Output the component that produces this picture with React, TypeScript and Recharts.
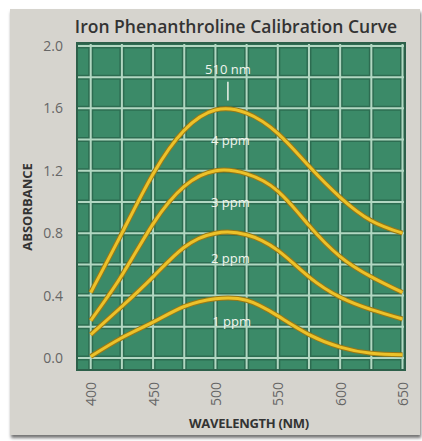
import { LineChart, Line, XAxis, YAxis, CartesianGrid, ReferenceLine, ReferenceDot, ReferenceArea } from "recharts";

const wavelengths = [400, 425, 450, 475, 500, 525, 550, 575, 600, 625, 650];
const ppm4 = [0.42, 0.8, 1.18, 1.46, 1.59, 1.57, 1.44, 1.23, 1.03, 0.88, 0.8];
const ppm3 = [0.24, 0.53, 0.86, 1.1, 1.2, 1.18, 1.07, 0.85, 0.65, 0.52, 0.42];
const ppm2 = [0.15, 0.33, 0.52, 0.71, 0.8, 0.79, 0.69, 0.52, 0.39, 0.31, 0.25];
const ppm1 = [0.01, 0.13, 0.23, 0.33, 0.38, 0.37, 0.27, 0.15, 0.07, 0.03, 0.02];

const xTicks = [400, 450, 500, 550, 600, 650];
const yTicks = [0, 0.4, 0.8, 1.2, 1.6, 2.0];
const gridX = [400, 425, 450, 475, 500, 525, 550, 575, 600, 625, 650];
const gridY = [0, 0.2, 0.4, 0.6, 0.8, 1.0, 1.2, 1.4, 1.6, 1.8, 2.0];

const curveLabels = [
    { x: 512, y: 1.4, text: "4 ppm" },
    { x: 512, y: 1.0, text: "3 ppm" },
    { x: 512, y: 0.64, text: "2 ppm" },
    { x: 513, y: 0.24, text: "1 ppm" },
];
const peak = { x: 510, from: 1.65, to: 1.77, labelY: 1.85, text: "510 nm" };

const data = wavelengths.map((w, i) => ({ w, p4: ppm4[i], p3: ppm3[i], p2: ppm2[i], p1: ppm1[i] }));
const series = ["p4", "p3", "p2", "p1"];

const font = "'Open Sans', 'DejaVu Sans', sans-serif";

const XTick = (props: any) => {
    const { x, y, payload } = props;
    return (
        <text x={x} y={y} transform={`rotate(-90, ${x}, ${y})`} textAnchor="end" dominantBaseline="central" fill="#666" fontSize={14} fontFamily={font}>
            {payload.value}
        </text>
    );
};

const PlainLabel = (text: string) => (props: any) => {
    const { viewBox } = props;
    return (
        <text x={viewBox.x} y={viewBox.y} textAnchor="middle" dominantBaseline="central" fill="#f2f5ee" fontSize={13} fontFamily={font}>
            {text}
        </text>
    );
};

export default function App() {
    return (
        <div style={{ position: "absolute", left: 0, top: 0, width: 422, height: 441, background: "#fff", fontFamily: font }}>
            {/* panel */}
            <div style={{ position: "absolute", left: 10, top: 9, width: 410, height: 426, background: "#d6d4ce", boxShadow: "1px 3px 3px rgba(0,0,0,0.55)" }} />

            {/* titles */}
            <div style={{ position: "absolute", left: 56, width: 360, top: 14, textAlign: "center", fontSize: 17.5, fontWeight: 600, color: "#333", whiteSpace: "nowrap" }}>
                Iron Phenanthroline Calibration Curve
            </div>
            <div style={{ position: "absolute", left: 27, top: 207, transform: "translate(-50%, -50%) rotate(-90deg)", fontSize: 13, fontWeight: 700, color: "#333", whiteSpace: "nowrap" }}>
                ABSORBANCE
            </div>
            <div style={{ position: "absolute", left: 249, top: 423, transform: "translate(-50%, -50%)", fontSize: 13, fontWeight: 700, color: "#333", whiteSpace: "nowrap", letterSpacing: -0.3 }}>
                WAVELENGTH (NM)
            </div>

            <div style={{ position: "absolute", left: 0, top: 0 }}>
                <LineChart width={422} height={441} data={data} margin={{ top: 43, right: 17, bottom: 0, left: 27 }}>
                    <CartesianGrid fill="#3b8a68" stroke="#2d6c51" strokeWidth={5} verticalValues={gridX} horizontalValues={gridY} />
                    <CartesianGrid fill="none" stroke="#b2d7c2" strokeWidth={2} verticalValues={gridX} horizontalValues={gridY} />
                    <ReferenceArea x1={389} x2={652} y1={-0.077} y2={2.019} fill="none" stroke="#2d604a" strokeWidth={2} ifOverflow="visible" />
                    <XAxis
                        dataKey="w"
                        type="number"
                        domain={[389, 652]}
                        ticks={xTicks}
                        height={71}
                        axisLine={false}
                        tickLine={false}
                        tickMargin={6}
                        tick={<XTick />}
                        allowDataOverflow
                    />
                    <YAxis
                        type="number"
                        domain={[-0.077, 2.019]}
                        ticks={yTicks}
                        width={50}
                        axisLine={false}
                        tickLine={false}
                        tickMargin={8}
                        tickFormatter={(v: number) => v.toFixed(1)}
                        tick={{ fill: "#666", fontSize: 14, fontFamily: font }}
                        allowDataOverflow
                    />
                    {series.map((k) => (
                        <Line key={k + "o"} dataKey={k} type="natural" stroke="#9a7814" strokeWidth={5} dot={false} isAnimationActive={false} />
                    ))}
                    {series.map((k) => (
                        <Line key={k} dataKey={k} type="natural" stroke="#ecc22a" strokeWidth={3} dot={false} isAnimationActive={false} />
                    ))}
                    <ReferenceLine segment={[{ x: peak.x, y: peak.from }, { x: peak.x, y: peak.to }]} stroke="#eef3ea" strokeWidth={1.5} />
                    <ReferenceDot x={peak.x} y={peak.labelY} r={0} label={PlainLabel(peak.text)} />
                    {curveLabels.map((l) => (
                        <ReferenceDot key={l.text} x={l.x} y={l.y} r={0} label={PlainLabel(l.text)} />
                    ))}
                </LineChart>
            </div>
        </div>
    );
}
